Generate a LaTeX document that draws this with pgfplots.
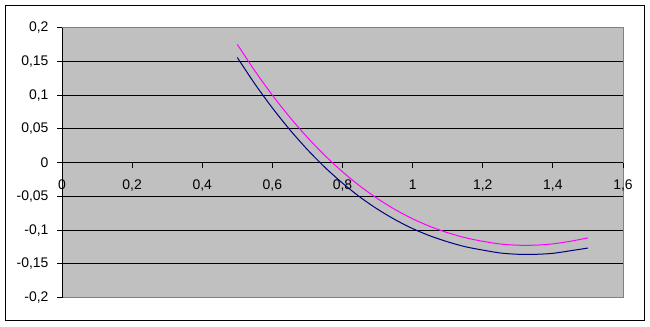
\documentclass[border=0pt]{standalone}
\usepackage{fontspec}
\setmainfont{Liberation Sans}
\usepackage{pgfplots}
\pgfplotsset{compat=1.18}
\definecolor{plotgray}{HTML}{C0C0C0}
\definecolor{bordergray}{HTML}{808080}
\definecolor{navyline}{HTML}{000080}
\definecolor{magline}{HTML}{FF00FF}
\begin{document}
\begin{tikzpicture}[x=1bp,y=1bp]
\useasboundingbox (0,0) rectangle (650,326);
\fill[white] (0,0) rectangle (650,326);
\draw[line width=1bp,black] (5.5,5.5) rectangle (644.5,320.5);
\begin{axis}[
  at={(62bp,28.3bp)}, anchor=south west,
  width=561bp, height=270.2bp, scale only axis,
  xmin=0, xmax=1.6, ymin=-0.2, ymax=0.2,
  axis background/.style={fill=plotgray, draw=bordergray, line width=1bp},
  axis x line=middle, axis y line=left,
  axis line style={draw=black, line width=1bp, -},
  hide obscured x ticks=false, hide obscured y ticks=false,
  xtick={0,0.2,0.4,0.6,0.8,1,1.2,1.4,1.6},
  xticklabels={0,{0,2},{0,4},{0,6},{0,8},1,{1,2},{1,4},{1,6}},
  ytick={-0.2,-0.15,-0.1,-0.05,0,0.05,0.1,0.15,0.2},
  yticklabels={{-0,2},{-0,15},{-0,1},{-0,05},0,{0,05},{0,1},{0,15},{0,2}},
  extra y ticks={-0.15,-0.1,-0.05,0.05,0.1,0.15},
  extra y tick labels={},
  extra y tick style={grid=major, major tick length=0pt},
  major grid style={draw=black, line width=1bp},
  tick align=outside,
  major tick length=5bp,
  tick style={draw=black, line width=1bp},
  ticklabel style={font=\fontsize{14}{16}\selectfont},
  xticklabel style={anchor=north, yshift=-9bp},
  yticklabel style={anchor=east, xshift=-5bp},
  clip=false,
]
\addplot[navyline, line width=1bp, smooth] coordinates {
(0.5,0.1556) (0.55,0.1165) (0.6,0.0809) (0.65,0.0485) (0.7,0.0192)
(0.75,-0.0071) (0.8,-0.0304) (0.85,-0.0511) (0.9,-0.0690) (0.95,-0.0845)
(1.0,-0.0977) (1.05,-0.1085) (1.1,-0.1173) (1.15,-0.1245) (1.2,-0.1295)
(1.25,-0.1338) (1.3,-0.1357) (1.35,-0.1358) (1.4,-0.1343) (1.45,-0.1305)
(1.5,-0.1265)
};
\addplot[magline, line width=1bp, smooth] coordinates {
(0.5,0.1750) (0.55,0.1358) (0.6,0.0998) (0.65,0.0670) (0.7,0.0372)
(0.75,0.0104) (0.8,-0.0136) (0.85,-0.0348) (0.9,-0.0534) (0.95,-0.0695)
(1.0,-0.0832) (1.05,-0.0946) (1.1,-0.1038) (1.15,-0.1112) (1.2,-0.1165)
(1.25,-0.1205) (1.3,-0.1223) (1.35,-0.1222) (1.4,-0.1203) (1.45,-0.1164)
(1.5,-0.1115)
};
\end{axis}
\end{tikzpicture}
\end{document}
